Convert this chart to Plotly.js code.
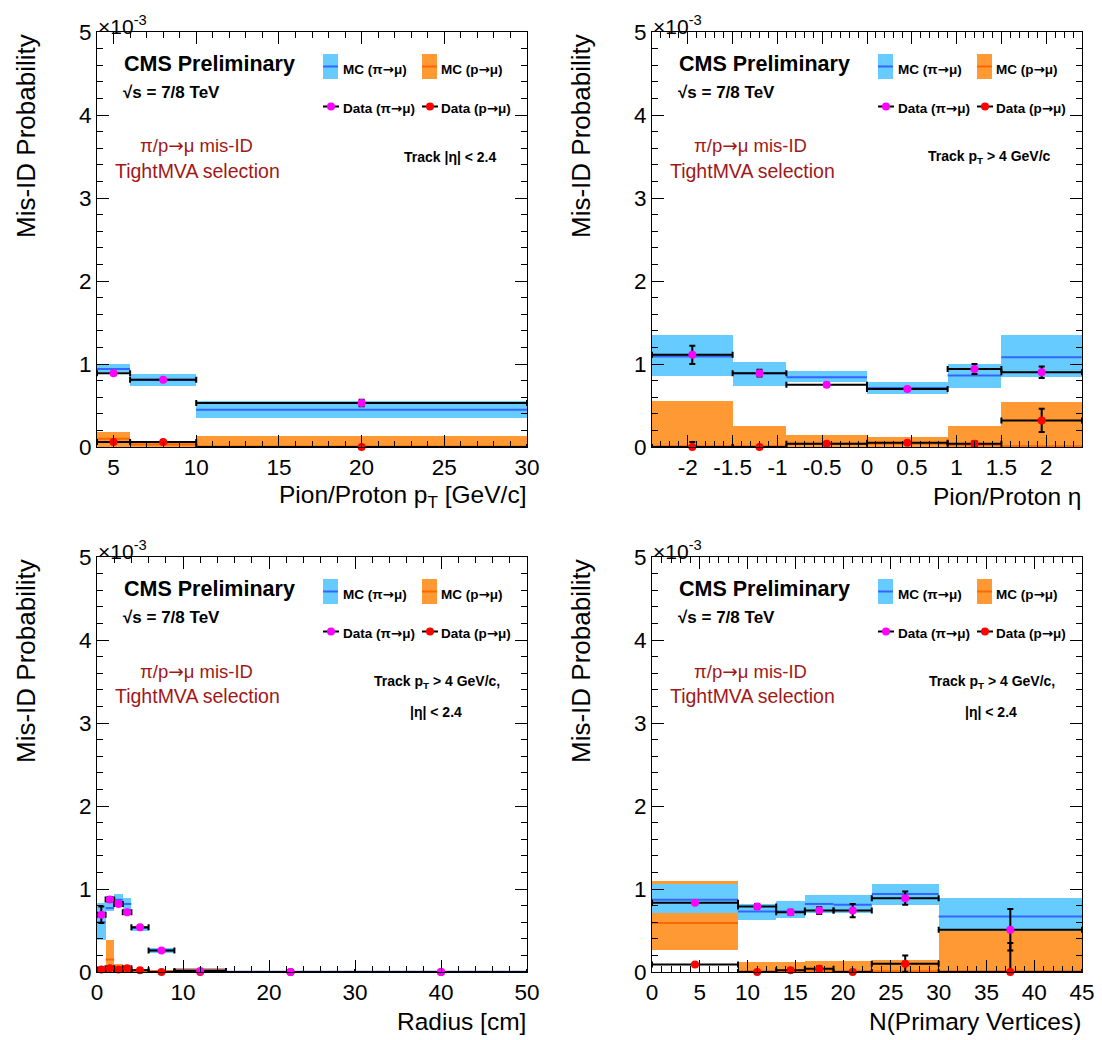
<!DOCTYPE html>
<html><head><meta charset="utf-8">
<script src="https://cdn.plot.ly/plotly-3.0.1.min.js"></script>
<style>html,body{margin:0;padding:0;background:#fff}</style>
</head><body><div id="chart" style="width:1102px;height:1040px"></div>
<script>
// ---------------- DATA (values in units of 1e-3) ----------------
// Panel 1: pion/proton pT [GeV/c]
const edgesPt = [4, 6, 10, 30];
const mcPiPt = [0.94, 0.81, 0.45];
const mcPiPtLo = [0.90, 0.73, 0.35];
const mcPiPtHi = [1.00, 0.88, 0.55];
const mcPPt = [0.10, 0.03, 0.005];
const mcPPtLo = [0.0, 0.0, 0.0];
const mcPPtHi = [0.18, 0.065, 0.135];
const dataPiPt = [0.89, 0.81, 0.53];
const dataPiPtErr = [0.01, 0.01, 0.04];
const dataPPt = [0.06, 0.06, 0.0];
const dataPPtErr = [0.01, 0.01, 0.0];

// Panel 2: eta
const edgesEta = [-2.4, -1.5, -0.9, 0, 0.9, 1.5, 2.4];
const mcPiEta = [1.09, 0.89, 0.84, 0.71, 0.86, 1.08];
const mcPiEtaLo = [0.86, 0.74, 0.78, 0.64, 0.71, 0.84];
const mcPiEtaHi = [1.35, 1.03, 0.91, 0.78, 1.00, 1.35];
const mcPEta = [0.01, 0.01, 0.04, 0.04, 0.02, 0.01];
const mcPEtaLo = [0, 0, 0, 0, 0, 0];
const mcPEtaHi = [0.55, 0.25, 0.14, 0.12, 0.25, 0.54];
const dataPiEta = [1.11, 0.89, 0.75, 0.70, 0.94, 0.90];
const dataPiEtaErr = [0.11, 0.04, 0.02, 0.01, 0.06, 0.07];
const dataPEta = [0.0, 0.0, 0.04, 0.05, 0.04, 0.32];
const dataPEtaErr = [0.06, 0.0, 0.01, 0.01, 0.03, 0.14];

// Panel 3: radius [cm]
const edgesR = [0, 1, 2, 3, 4, 6, 9, 15, 30, 50];
const mcPiR = [0.60, 0.77, 0.87, 0.82, 0.53, 0.26, 0.02, 0.004, 0.003];
const mcPiRLo = [0.38, 0.73, 0.79, 0.75, 0.49, 0.225, 0.0, 0.0, 0.0];
const mcPiRHi = [0.835, 0.91, 0.94, 0.89, 0.56, 0.285, 0.04, 0.01, 0.008];
const mcPR = [0.0, 0.15, 0.03, 0.02, 0.02, 0.01, 0.02, 0.0, 0.0];
const mcPRLo = [0, 0, 0, 0, 0, 0, 0, 0, 0];
const mcPRHi = [0.0, 0.385, 0.10, 0.06, 0.04, 0.02, 0.045, 0.005, 0.0];
const dataPiR = [0.69, 0.875, 0.82, 0.72, 0.54, 0.26, 0.012, 0.0, 0.0];
const dataPiRErr = [0.10, 0.03, 0.02, 0.01, 0.01, 0.01, 0.005, 0.0, 0.0];
const dataPR = [0.03, 0.045, 0.03, 0.045, 0.02, 0.0, 0.0, 0.0, 0.0];
const dataPRErr = [0.02, 0.01, 0.01, 0.01, 0.01, 0.0, 0.0, 0.0, 0.0];

// Panel 4: N(primary vertices)
const edgesNpv = [0, 9, 13, 16, 19, 23, 30, 45];
const mcPiNpv = [0.87, 0.73, 0.73, 0.82, 0.81, 0.94, 0.67];
const mcPiNpvLo = [0.71, 0.63, 0.65, 0.71, 0.71, 0.81, 0.49];
const mcPiNpvHi = [1.06, 0.82, 0.86, 0.93, 0.93, 1.06, 0.89];
const mcPNpv = [0.59, 0.01, 0.01, 0.01, 0.01, 0.01, 0.01];
const mcPNpvLo = [0.26, 0, 0, 0, 0, 0, 0];
const mcPNpvHi = [1.10, 0.125, 0.125, 0.135, 0.135, 0.15, 0.49];
const dataPiNpv = [0.835, 0.79, 0.72, 0.74, 0.74, 0.89, 0.51];
const dataPiNpvErr = [0.01, 0.03, 0.03, 0.04, 0.08, 0.08, 0.25];
const dataPNpv = [0.09, 0.0, 0.02, 0.04, 0.0, 0.10, 0.0];
const dataPNpvErr = [0.01, 0.0, 0.02, 0.03, 0.0, 0.10, 0.35];

// Axis tick labels and texts
const etaTickVals = [-2, -1.5, -1, -0.5, 0, 0.5, 1, 1.5, 2];
const etaTickText = ['-2', '-1.5', '-1', '-0.5', '0', '0.5', '1', '1.5', '2'];
const xTitles = ['Pion/Proton p<sub>T</sub> [GeV/c]', 'Pion/Proton η', 'Radius [cm]', 'N(Primary Vertices)'];
const yTitle = 'Mis-ID Probability';
const trackTexts = [
  ['Track |η| &lt; 2.4'],
  ['Track p<sub>T</sub> &gt; 4 GeV/c'],
  ['Track p<sub>T</sub> &gt; 4 GeV/c,', '|η| &lt; 2.4'],
  ['Track p<sub>T</sub> &gt; 4 GeV/c,', '|η| &lt; 2.4']
];

// ---------------- STYLE / LAYOUT ----------------
const W = 1102, H = 1040;
const PX = x => x / W, PY = y => 1 - y / H;
const PW = 430, PH = 415;
const geom = [{l: 97, t: 32}, {l: 652, t: 32}, {l: 97, t: 557}, {l: 652, t: 557}];
const FONT = 'Liberation Sans, Arial, Helvetica, sans-serif';
const ARR = '<span style="font-family:DejaVu Sans">→</span>';
const C = {piBand: '#66ccff', piLine: '#3366ff', pBand: '#ff9933', pLine: '#ff6600', piData: '#ff00ff', pData: '#ff0000', red: '#a01818'};

const panels = [
  {edges: edgesPt, mcPi: mcPiPt, mcPiLo: mcPiPtLo, mcPiHi: mcPiPtHi, mcP: mcPPt, mcPLo: mcPPtLo, mcPHi: mcPPtHi,
   dPi: dataPiPt, dPiE: dataPiPtErr, dP: dataPPt, dPE: dataPPtErr,
   xr: [4, 30], xt: {tickmode: 'linear', tick0: 0, dtick: 5}, minor: 1},
  {edges: edgesEta, mcPi: mcPiEta, mcPiLo: mcPiEtaLo, mcPiHi: mcPiEtaHi, mcP: mcPEta, mcPLo: mcPEtaLo, mcPHi: mcPEtaHi,
   dPi: dataPiEta, dPiE: dataPiEtaErr, dP: dataPEta, dPE: dataPEtaErr,
   xr: [-2.4, 2.4], xt: {tickmode: 'array', tickvals: etaTickVals, ticktext: etaTickText}, minor: 0.1},
  {edges: edgesR, mcPi: mcPiR, mcPiLo: mcPiRLo, mcPiHi: mcPiRHi, mcP: mcPR, mcPLo: mcPRLo, mcPHi: mcPRHi,
   dPi: dataPiR, dPiE: dataPiRErr, dP: dataPR, dPE: dataPRErr,
   xr: [0, 50], xt: {tickmode: 'linear', tick0: 0, dtick: 10}, minor: 2},
  {edges: edgesNpv, mcPi: mcPiNpv, mcPiLo: mcPiNpvLo, mcPiHi: mcPiNpvHi, mcP: mcPNpv, mcPLo: mcPNpvLo, mcPHi: mcPNpvHi,
   dPi: dataPiNpv, dPiE: dataPiNpvErr, dP: dataPNpv, dPE: dataPNpvErr,
   xr: [0, 45], xt: {tickmode: 'linear', tick0: 0, dtick: 5}, minor: 1}
];

function centers(e) { return e.slice(0, -1).map((v, i) => (v + e[i + 1]) / 2); }
function widths(e) { return e.slice(0, -1).map((v, i) => e[i + 1] - v); }
function segs(e, v) {
  const x = [], y = [];
  v.forEach((val, i) => { x.push(e[i], e[i + 1], null); y.push(val, val, null); });
  return {x, y};
}

const traces = [];
const layout = {
  width: W, height: H, margin: {l: 0, r: 0, t: 0, b: 0},
  paper_bgcolor: '#fff', plot_bgcolor: '#fff', showlegend: false,
  barmode: 'overlay', bargap: 0, font: {family: FONT, color: '#000'},
  annotations: [], shapes: []
};

panels.forEach((p, k) => {
  const sfx = k === 0 ? '' : String(k + 1);
  const xa = 'x' + sfx, ya = 'y' + sfx;
  const g = geom[k];
  const cx = centers(p.edges), w = widths(p.edges), hw = w.map(v => v / 2);

  const band = (lo, hi, color) => ({
    type: 'bar', x: cx, base: lo, y: hi.map((h, i) => h - lo[i]), width: w,
    marker: {color: color, line: {width: 0}}, xaxis: xa, yaxis: ya, hoverinfo: 'skip'
  });
  traces.push(band(p.mcPLo, p.mcPHi, C.pBand));
  traces.push(band(p.mcPiLo, p.mcPiHi, C.piBand));
  const sp = segs(p.edges, p.mcP), spi = segs(p.edges, p.mcPi);
  traces.push({type: 'scatter', mode: 'lines', x: sp.x, y: sp.y, line: {color: C.pLine, width: 2}, connectgaps: false, xaxis: xa, yaxis: ya, hoverinfo: 'skip'});
  traces.push({type: 'scatter', mode: 'lines', x: spi.x, y: spi.y, line: {color: C.piLine, width: 2}, connectgaps: false, xaxis: xa, yaxis: ya, hoverinfo: 'skip'});
  const data = (vals, errs, color) => ({
    type: 'scatter', mode: 'markers', x: cx, y: vals, cliponaxis: false,
    marker: {color: color, size: 8},
    error_x: {type: 'data', array: hw, color: '#000', thickness: 2, width: 3},
    error_y: {type: 'data', symmetric: false, array: errs, arrayminus: errs.map((e, i) => Math.min(e, vals[i])), color: '#000', thickness: 2, width: 3},
    xaxis: xa, yaxis: ya
  });
  traces.push(data(p.dP, p.dPE, C.pData));
  traces.push(data(p.dPi, p.dPiE, C.piData));

  const common = {
    ticks: 'inside', ticklen: 12, tickwidth: 1, tickcolor: '#000',
    showline: true, linecolor: '#000', linewidth: 1, mirror: 'ticks',
    showgrid: false, zeroline: false, fixedrange: true,
    tickfont: {family: FONT, size: 22.5, color: '#000'}
  };
  layout['xaxis' + sfx] = Object.assign({}, common, p.xt, {
    anchor: ya, domain: [PX(g.l), PX(g.l + PW)], range: p.xr,
    minor: {ticks: 'inside', ticklen: 6, tickcolor: '#000', tickmode: 'linear', tick0: 0, dtick: p.minor, showgrid: false}
  });
  layout['yaxis' + sfx] = Object.assign({}, common, {
    anchor: xa, domain: [PY(g.t + PH), PY(g.t)], range: [0, 5],
    tickmode: 'linear', tick0: 0, dtick: 1,
    minor: {ticks: 'inside', ticklen: 6, tickcolor: '#000', tickmode: 'linear', tick0: 0, dtick: 0.2, showgrid: false}
  });

  const A = (x, y, text, opts) => layout.annotations.push(Object.assign({
    xref: 'paper', yref: 'paper', x: PX(x), y: PY(y), text: text, showarrow: false,
    xanchor: 'left', yanchor: 'middle', font: {family: FONT, size: 14, color: '#000'}
  }, opts || {}));
  const L = g.l, T = g.t;
  A(L + 25, T + 32, '<b>CMS Preliminary</b>', {font: {family: FONT, size: 21.5, color: '#000'}});
  A(L + 24, T + 60, '<b>√s = 7/8 TeV</b>', {font: {family: FONT, size: 17, color: '#000'}});
  A(L + 99, T + 114, 'π/p' + ARR + 'μ mis-ID', {xanchor: 'center', font: {family: FONT, size: 18.5, color: C.red}});
  A(L + 100, T + 139, 'TightMVA selection', {xanchor: 'center', font: {family: FONT, size: 19.5, color: C.red}});
  const tt = trackTexts[k];
  if (tt.length === 1) {
    A(L + PW - 29, T + 125, '<b>' + tt[0] + '</b>', {xanchor: 'right'});
  } else {
    A(L + PW - 25, T + 125, '<b>' + tt[0] + '</b>', {xanchor: 'right'});
    A(L + PW - 91, T + 155, '<b>' + tt[1] + '</b>', {xanchor: 'center'});
  }
  // legend
  const S = (o) => layout.shapes.push(Object.assign({xref: 'paper', yref: 'paper', layer: 'above'}, o));
  const legItem = (x0, band, line) => {
    S({type: 'rect', x0: PX(L + x0), x1: PX(L + x0 + 15), y0: PY(T + 22), y1: PY(T + 47), fillcolor: band, line: {width: 0}});
    S({type: 'line', x0: PX(L + x0), x1: PX(L + x0 + 15), y0: PY(T + 34.5), y1: PY(T + 34.5), line: {color: line, width: 2}});
  };
  const legData = (x0, col) => {
    S({type: 'line', x0: PX(L + x0), x1: PX(L + x0 + 16), y0: PY(T + 74.5), y1: PY(T + 74.5), line: {color: '#000', width: 2}});
    S({type: 'circle', x0: PX(L + x0 + 4), x1: PX(L + x0 + 12), y0: PY(T + 78.5), y1: PY(T + 70.5), fillcolor: col, line: {width: 0}});
  };
  legItem(226, C.piBand, C.piLine);
  legItem(325, C.pBand, C.pLine);
  legData(226, C.piData);
  legData(325, C.pData);
  const LF = {family: FONT, size: 13.5, color: '#000'};
  A(L + 244, T + 37, '<b>MC (π' + ARR + 'μ)</b>', {font: LF});
  A(L + 342, T + 37, '<b>MC (p' + ARR + 'μ)</b>', {font: LF});
  A(L + 244, T + 76, '<b>Data (π' + ARR + 'μ)</b>', {font: LF});
  A(L + 342, T + 76, '<b>Data (p' + ARR + 'μ)</b>', {font: LF});
  // axis titles
  A(L + PW + 1, T + PH + 49, xTitles[k], {xanchor: 'right', font: {family: FONT, size: 24.5, color: '#000'}});
  A(L - 71, T + 104, yTitle, {xanchor: 'center', textangle: -90, font: {family: FONT, size: 26, color: '#000'}});
  A(L - 1, T - 7, '×10<sup>-3</sup>', {font: {family: FONT, size: 21, color: '#000'}});
});

Plotly.newPlot('chart', traces, layout, {staticPlot: true, displayModeBar: false});
</script></body></html>
